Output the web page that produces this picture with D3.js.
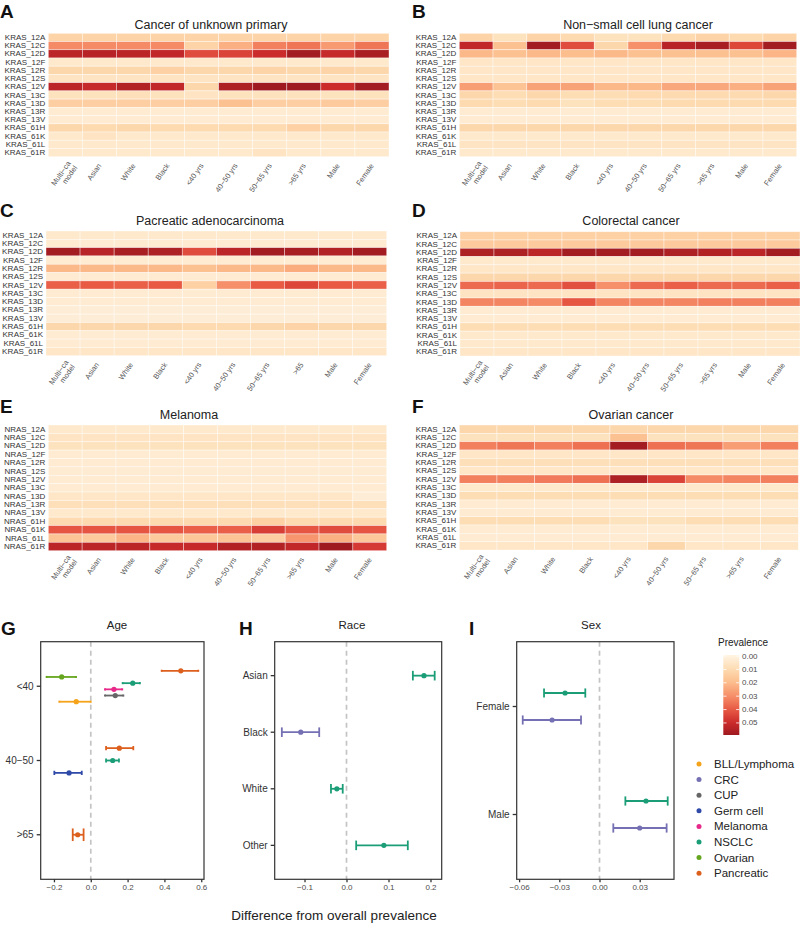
<!DOCTYPE html>
<html><head><meta charset="utf-8">
<script src="https://cdn.jsdelivr.net/npm/d3@7"></script>
<style>body{margin:0;background:#fff} svg{display:block;font-family:"Liberation Sans",Arial,sans-serif}</style>
</head><body>
<svg id="c" width="800" height="925"></svg>
<script>
// ---------------- DATA ----------------
const krasRows = ["KRAS_12A","KRAS_12C","KRAS_12D","KRAS_12F","KRAS_12R","KRAS_12S","KRAS_12V","KRAS_13C","KRAS_13D","KRAS_13R","KRAS_13V","KRAS_61H","KRAS_61K","KRAS_61L","KRAS_61R"];
const nrasRows = ["NRAS_12A","NRAS_12C","NRAS_12D","NRAS_12F","NRAS_12R","NRAS_12S","NRAS_12V","NRAS_13C","NRAS_13D","NRAS_13R","NRAS_13V","NRAS_61H","NRAS_61K","NRAS_61L","NRAS_61R"];
const colsStd = ["Multi−ca\nmodel","Asian","White","Black","<40 yrs","40−50 yrs","50−65 yrs",">65 yrs","Male","Female"];
const colsPanc = ["Multi−ca\nmodel","Asian","White","Black","<40 yrs","40−50 yrs","50−65 yrs",">65","Male","Female"];
const colsOva = ["Multi−ca\nmodel","Asian","White","Black","<40 yrs","40−50 yrs","50−65 yrs",">65 yrs","Female"];

const cupValues = [
 [0.013,0.013,0.013,0.013,0.013,0.013,0.013,0.013,0.013,0.013],
 [0.031,0.031,0.031,0.031,0.013,0.023,0.033,0.035,0.028,0.035],
 [0.053,0.054,0.053,0.052,0.043,0.045,0.050,0.058,0.051,0.057],
 [0.005,0.005,0.005,0.005,0.005,0.005,0.005,0.005,0.005,0.005],
 [0.012,0.012,0.012,0.014,0.012,0.012,0.013,0.012,0.013,0.012],
 [0.007,0.007,0.007,0.007,0.007,0.007,0.007,0.007,0.007,0.007],
 [0.053,0.051,0.055,0.052,0.012,0.056,0.059,0.059,0.050,0.058],
 [0.008,0.008,0.009,0.008,0.007,0.008,0.008,0.008,0.008,0.008],
 [0.015,0.015,0.015,0.015,0.015,0.019,0.015,0.015,0.016,0.015],
 [0.004,0.004,0.004,0.004,0.004,0.004,0.004,0.004,0.004,0.004],
 [0.004,0.004,0.004,0.004,0.004,0.004,0.004,0.004,0.004,0.004],
 [0.012,0.011,0.012,0.011,0.011,0.011,0.011,0.014,0.012,0.012],
 [0.005,0.007,0.005,0.005,0.005,0.005,0.005,0.005,0.005,0.005],
 [0.005,0.005,0.005,0.005,0.005,0.005,0.005,0.005,0.005,0.005],
 [0.005,0.005,0.005,0.005,0.005,0.005,0.007,0.005,0.005,0.005]
];
const nsclcValues = [
 [0.013,0.008,0.013,0.011,0.008,0.008,0.011,0.013,0.011,0.013],
 [0.052,0.019,0.058,0.043,0.012,0.030,0.054,0.057,0.044,0.058],
 [0.021,0.019,0.021,0.020,0.021,0.019,0.019,0.019,0.019,0.022],
 [0.006,0.006,0.006,0.006,0.006,0.006,0.006,0.006,0.006,0.006],
 [0.006,0.006,0.006,0.006,0.006,0.006,0.006,0.006,0.006,0.006],
 [0.006,0.006,0.006,0.006,0.006,0.006,0.006,0.006,0.006,0.006],
 [0.027,0.018,0.026,0.026,0.021,0.021,0.025,0.025,0.023,0.026],
 [0.012,0.010,0.012,0.010,0.010,0.011,0.011,0.011,0.011,0.012],
 [0.011,0.010,0.011,0.008,0.010,0.010,0.011,0.011,0.011,0.011],
 [0.004,0.004,0.004,0.004,0.004,0.004,0.004,0.004,0.004,0.004],
 [0.004,0.004,0.004,0.004,0.004,0.004,0.004,0.004,0.004,0.004],
 [0.012,0.012,0.012,0.012,0.012,0.012,0.012,0.012,0.012,0.012],
 [0.005,0.005,0.005,0.005,0.005,0.005,0.005,0.005,0.005,0.005],
 [0.007,0.007,0.007,0.007,0.007,0.007,0.007,0.007,0.007,0.007],
 [0.005,0.005,0.005,0.005,0.005,0.005,0.005,0.005,0.005,0.005]
];
const pancValues = [
 [0.005,0.005,0.005,0.005,0.005,0.005,0.005,0.005,0.005,0.005],
 [0.004,0.004,0.004,0.004,0.004,0.004,0.004,0.004,0.004,0.004],
 [0.058,0.054,0.057,0.056,0.043,0.053,0.058,0.057,0.055,0.058],
 [0.004,0.004,0.004,0.004,0.004,0.004,0.004,0.004,0.004,0.004],
 [0.021,0.021,0.021,0.021,0.019,0.021,0.021,0.024,0.021,0.021],
 [0.004,0.004,0.004,0.004,0.004,0.004,0.004,0.004,0.004,0.004],
 [0.039,0.040,0.039,0.040,0.014,0.030,0.040,0.044,0.040,0.039],
 [0.004,0.004,0.004,0.004,0.004,0.004,0.004,0.004,0.004,0.004],
 [0.004,0.004,0.004,0.004,0.004,0.004,0.004,0.004,0.004,0.004],
 [0.003,0.003,0.003,0.003,0.003,0.003,0.003,0.003,0.003,0.003],
 [0.003,0.003,0.003,0.003,0.003,0.003,0.003,0.003,0.003,0.003],
 [0.012,0.012,0.012,0.012,0.011,0.011,0.012,0.013,0.012,0.012],
 [0.004,0.004,0.004,0.004,0.004,0.004,0.004,0.004,0.004,0.004],
 [0.004,0.004,0.004,0.004,0.004,0.004,0.004,0.004,0.004,0.004],
 [0.006,0.006,0.006,0.006,0.006,0.006,0.006,0.006,0.006,0.006]
];
const crcValues = [
 [0.014,0.014,0.014,0.014,0.014,0.014,0.014,0.014,0.014,0.014],
 [0.016,0.016,0.016,0.016,0.016,0.016,0.016,0.016,0.016,0.016],
 [0.056,0.056,0.053,0.058,0.058,0.058,0.056,0.055,0.053,0.058],
 [0.005,0.005,0.005,0.005,0.005,0.005,0.005,0.005,0.005,0.005],
 [0.006,0.006,0.006,0.006,0.006,0.006,0.006,0.006,0.006,0.006],
 [0.012,0.012,0.012,0.012,0.012,0.012,0.012,0.012,0.012,0.012],
 [0.037,0.038,0.037,0.042,0.030,0.037,0.039,0.037,0.037,0.039],
 [0.007,0.007,0.007,0.007,0.007,0.007,0.007,0.007,0.007,0.007],
 [0.032,0.032,0.031,0.041,0.032,0.032,0.032,0.033,0.033,0.033],
 [0.004,0.004,0.004,0.004,0.004,0.004,0.004,0.004,0.004,0.004],
 [0.004,0.004,0.004,0.004,0.004,0.004,0.004,0.004,0.004,0.004],
 [0.010,0.010,0.010,0.010,0.010,0.010,0.010,0.010,0.010,0.010],
 [0.005,0.005,0.005,0.005,0.005,0.005,0.005,0.005,0.005,0.005],
 [0.005,0.005,0.005,0.005,0.005,0.005,0.005,0.005,0.005,0.005],
 [0.006,0.006,0.006,0.006,0.006,0.006,0.006,0.006,0.006,0.006]
];
const melValues = [
 [0.005,0.005,0.005,0.005,0.005,0.005,0.005,0.005,0.005,0.005],
 [0.007,0.007,0.007,0.007,0.007,0.007,0.007,0.007,0.007,0.007],
 [0.008,0.008,0.008,0.008,0.008,0.008,0.008,0.008,0.008,0.008],
 [0.004,0.004,0.004,0.004,0.004,0.004,0.004,0.004,0.004,0.004],
 [0.004,0.004,0.004,0.004,0.004,0.004,0.004,0.004,0.004,0.004],
 [0.004,0.004,0.004,0.004,0.004,0.004,0.004,0.004,0.004,0.004],
 [0.004,0.004,0.004,0.004,0.004,0.004,0.004,0.004,0.004,0.004],
 [0.004,0.004,0.004,0.004,0.004,0.004,0.004,0.004,0.004,0.004],
 [0.006,0.006,0.006,0.006,0.006,0.006,0.006,0.006,0.006,0.003],
 [0.009,0.009,0.009,0.009,0.009,0.009,0.009,0.009,0.009,0.009],
 [0.005,0.005,0.005,0.005,0.005,0.005,0.005,0.005,0.005,0.005],
 [0.011,0.011,0.011,0.011,0.011,0.011,0.014,0.011,0.011,0.011],
 [0.041,0.041,0.041,0.041,0.039,0.039,0.046,0.041,0.043,0.041],
 [0.018,0.016,0.022,0.016,0.017,0.018,0.015,0.029,0.023,0.017],
 [0.053,0.053,0.053,0.051,0.051,0.055,0.055,0.052,0.059,0.047]
];
const ovaValues = [
 [0.012,0.012,0.012,0.012,0.012,0.012,0.012,0.012,0.012],
 [0.008,0.008,0.008,0.008,0.019,0.008,0.008,0.008,0.008],
 [0.033,0.035,0.033,0.036,0.058,0.036,0.035,0.027,0.033],
 [0.006,0.006,0.006,0.006,0.006,0.006,0.006,0.006,0.006],
 [0.009,0.009,0.009,0.009,0.009,0.009,0.009,0.009,0.009],
 [0.006,0.006,0.006,0.006,0.006,0.006,0.006,0.006,0.006],
 [0.033,0.033,0.034,0.036,0.056,0.045,0.031,0.032,0.033],
 [0.005,0.005,0.005,0.005,0.005,0.005,0.005,0.005,0.005],
 [0.010,0.010,0.010,0.010,0.010,0.010,0.010,0.010,0.010],
 [0.004,0.004,0.004,0.004,0.004,0.004,0.004,0.004,0.004],
 [0.004,0.004,0.004,0.004,0.004,0.004,0.004,0.004,0.004],
 [0.010,0.010,0.010,0.010,0.008,0.008,0.010,0.010,0.010],
 [0.004,0.004,0.004,0.004,0.004,0.004,0.004,0.004,0.004],
 [0.004,0.004,0.004,0.004,0.004,0.004,0.004,0.004,0.004],
 [0.006,0.006,0.006,0.006,0.006,0.012,0.006,0.006,0.006]
];

const prevTicks = [0.00,0.01,0.02,0.03,0.04,0.05];

const ageCats = ["<40","40−50",">65"];
const ageData = [
 {cat:"<40", type:"Pancreatic", est:0.489, lo:0.385, hi:0.584},
 {cat:"<40", type:"Ovarian", est:-0.158, lo:-0.240, hi:-0.080},
 {cat:"<40", type:"NSCLC", est:0.228, lo:0.173, hi:0.267},
 {cat:"<40", type:"Melanoma", est:0.126, lo:0.077, hi:0.171},
 {cat:"<40", type:"CUP", est:0.133, lo:0.077, hi:0.177},
 {cat:"<40", type:"BLL/Lymphoma", est:-0.079, lo:-0.171, hi:0.000},
 {cat:"40−50", type:"Pancreatic", est:0.155, lo:0.083, hi:0.231},
 {cat:"40−50", type:"NSCLC", est:0.119, lo:0.083, hi:0.153},
 {cat:"40−50", type:"Germ cell", est:-0.118, lo:-0.198, hi:-0.049},
 {cat:">65", type:"Pancreatic", est:-0.071, lo:-0.098, hi:-0.039}
];
const raceCats = ["Asian","Black","White","Other"];
const raceData = [
 {cat:"Asian", type:"NSCLC", est:0.1845, lo:0.158, hi:0.210},
 {cat:"Black", type:"CRC", est:-0.109, lo:-0.154, hi:-0.065},
 {cat:"White", type:"NSCLC", est:-0.023, lo:-0.037, hi:-0.009},
 {cat:"Other", type:"NSCLC", est:0.089, lo:0.023, hi:0.146}
];
const sexCats = ["Female","Male"];
const sexData = [
 {cat:"Female", type:"NSCLC", est:-0.0257, lo:-0.0414, hi:-0.0106},
 {cat:"Female", type:"CRC", est:-0.0354, lo:-0.0573, hi:-0.0138},
 {cat:"Male", type:"NSCLC", est:0.0347, lo:0.0193, hi:0.0509},
 {cat:"Male", type:"CRC", est:0.0300, lo:0.0103, hi:0.0501}
];

const cancerTypes = ["BLL/Lymphoma","CRC","CUP","Germ cell","Melanoma","NSCLC","Ovarian","Pancreatic"];
const cancerColors = ["#F5A31A","#7570B3","#666666","#2F4AA8","#E7298A","#1B9E77","#66A61E","#DD5F1E"];

// ---------------- DRAW ----------------
const svg = d3.select("#c");
const color = d3.scaleLinear()
  .domain([0,0.01,0.02,0.03,0.04,0.05,0.059])
  .range(["#FFF4E4","#FDDDB4","#FCBE8D","#F6906A","#E85A44","#CB2B2B","#9E1A20"])
  .clamp(true);
const typeColor = d3.scaleOrdinal().domain(cancerTypes).range(cancerColors);

function letter(txt, x, y) {
  svg.append("text").attr("x", x).attr("y", y).text(txt)
    .attr("font-size", 19).attr("font-weight", "bold").attr("fill", "#111");
}

function heatmap(cfg) {
  const x = d3.scaleBand().domain(cfg.cols).range([cfg.x0, cfg.x1]);
  const y = d3.scaleBand().domain(cfg.rows).range([cfg.y0, cfg.y1]);
  const g = svg.append("g");
  const cells = [];
  cfg.values.forEach((row, i) => row.forEach((v, j) => cells.push({r: cfg.rows[i], c: cfg.cols[j], v})));
  g.selectAll("rect").data(cells).join("rect")
    .attr("x", d => x(d.c)).attr("y", d => y(d.r))
    .attr("width", x.bandwidth()).attr("height", y.bandwidth())
    .attr("fill", d => color(d.v))
    .attr("stroke", "rgba(255,255,255,0.55)").attr("stroke-width", 0.7);
  g.selectAll("text.row").data(cfg.rows).join("text").attr("class", "row")
    .attr("x", cfg.x0 - 3).attr("y", d => y(d) + y.bandwidth() / 2)
    .attr("text-anchor", "end").attr("dominant-baseline", "central")
    .attr("font-size", 8).attr("fill", "#333").text(d => d);
  cfg.cols.forEach(c => {
    const lines = c.split("\n");
    const t = g.append("text")
      .attr("transform", `translate(${x(c) + x.bandwidth() / 2 - 2},${cfg.y1 + 6}) rotate(-55)`)
      .attr("text-anchor", "end").attr("font-size", 7.5).attr("fill", "#555");
    if (lines.length === 1) {
      t.append("tspan").attr("x", 0).attr("dy", "0.7em").text(lines[0]);
    } else {
      t.append("tspan").attr("x", 4).attr("dy", "0.9em").text(lines[0]);
      t.append("tspan").attr("x", 4).attr("dy", "1.05em").text(lines[1]);
    }
  });
  svg.append("text").attr("x", cfg.titleX).attr("y", cfg.titleY)
    .attr("text-anchor", "middle").attr("font-size", 12.5).attr("fill", "#222").text(cfg.title);
  letter(cfg.letter, cfg.lx, cfg.ly);
}

heatmap({letter:"A", lx:0, ly:18, title:"Cancer of unknown primary", titleX:211, titleY:28.5,
  rows:krasRows, cols:colsStd, values:cupValues, x0:48.3, x1:389, y0:33.3, y1:156.7});
heatmap({letter:"B", lx:412, ly:18, title:"Non−small cell lung cancer", titleX:638, titleY:28.5,
  rows:krasRows, cols:colsStd, values:nsclcValues, x0:459.3, x1:796.7, y0:33.3, y1:156.7});
heatmap({letter:"C", lx:0, ly:217, title:"Pacreatic adenocarcinoma", titleX:210, titleY:225,
  rows:krasRows, cols:colsPanc, values:pancValues, x0:46, x1:386.7, y0:231, y1:355.7});
heatmap({letter:"D", lx:412, ly:217, title:"Colorectal cancer", titleX:631, titleY:225,
  rows:krasRows, cols:colsStd, values:crcValues, x0:460, x1:800, y0:231.7, y1:356});
heatmap({letter:"E", lx:0, ly:413, title:"Melanoma", titleX:189, titleY:418.5,
  rows:nrasRows, cols:colsStd, values:melValues, x0:48.3, x1:386.7, y0:425, y1:550.7});
heatmap({letter:"F", lx:412, ly:413, title:"Ovarian cancer", titleX:631, titleY:418.5,
  rows:krasRows, cols:colsOva, values:ovaValues, x0:459.3, x1:798.3, y0:425, y1:550});

function forest(cfg) {
  const x = d3.scaleLinear().domain(cfg.domain).range([cfg.x0, cfg.x1]);
  const n = cfg.cats.length;
  const step = (cfg.y1 - cfg.y0) / (n + 0.2);
  const g = svg.append("g");
  g.append("line").attr("x1", x(0)).attr("x2", x(0)).attr("y1", cfg.y0).attr("y2", cfg.y1)
    .attr("stroke", "#C4C4C4").attr("stroke-width", 1.7).attr("stroke-dasharray", "5,4");
  cfg.cats.forEach((cat, i) => {
    const yc = cfg.y0 + (0.6 + i) * step;
    const mem = cfg.data.filter(d => d.cat === cat).sort((a, b) => d3.descending(a.type, b.type));
    const k = mem.length;
    mem.forEach((d, j) => {
      const yy = yc + (-0.25 + (j + 0.5) * 0.5 / k) * step;
      const cap = 0.085 * step / k;
      const col = typeColor(d.type);
      g.append("line").attr("x1", x(d.lo)).attr("x2", x(d.hi)).attr("y1", yy).attr("y2", yy)
        .attr("stroke", col).attr("stroke-width", 1.8);
      [d.lo, d.hi].forEach(v => g.append("line").attr("x1", x(v)).attr("x2", x(v))
        .attr("y1", yy - cap).attr("y2", yy + cap).attr("stroke", col).attr("stroke-width", 1.8));
      g.append("circle").attr("cx", x(d.est)).attr("cy", yy).attr("r", 2.6).attr("fill", col);
    });
    g.append("text").attr("x", cfg.x0 - 7).attr("y", yc).attr("text-anchor", "end")
      .attr("dominant-baseline", "central").attr("font-size", 10).attr("fill", "#333").text(cat);
    g.append("line").attr("x1", cfg.x0 - 4).attr("x2", cfg.x0).attr("y1", yc).attr("y2", yc)
      .attr("stroke", "#333").attr("stroke-width", 1.3);
  });
  g.append("rect").attr("x", cfg.x0).attr("y", cfg.y0).attr("width", cfg.x1 - cfg.x0)
    .attr("height", cfg.y1 - cfg.y0).attr("fill", "none").attr("stroke", "#333").attr("stroke-width", 1.2);
  const ax = g.append("g").attr("transform", `translate(0,${cfg.y1})`)
    .call(d3.axisBottom(x).tickValues(cfg.ticks).tickFormat(d3.format(cfg.fmt)).tickSize(3).tickPadding(2));
  ax.select(".domain").remove();
  ax.selectAll("line").attr("stroke", "#333").attr("stroke-width", 1.3);
  ax.selectAll("text").attr("font-size", 8).attr("fill", "#4D4D4D").attr("font-family", "Liberation Sans, Arial, sans-serif");
  svg.append("text").attr("x", cfg.titleX).attr("y", 629).attr("text-anchor", "middle")
    .attr("font-size", 11.5).attr("fill", "#222").text(cfg.title);
  letter(cfg.letter, cfg.lx, 635);
}

forest({letter:"G", lx:1, title:"Age", titleX:117, cats:ageCats, data:ageData,
  domain:[-0.272, 0.615], ticks:[-0.2,0,0.2,0.4,0.6], fmt:".1f", x0:40.7, x1:204, y0:641.7, y1:879.3});
forest({letter:"H", lx:239, title:"Race", titleX:352, cats:raceCats, data:raceData,
  domain:[-0.171, 0.2267], ticks:[-0.1,0,0.1,0.2], fmt:".1f", x0:274.7, x1:441.7, y0:641.7, y1:879.3});
forest({letter:"I", lx:469, title:"Sex", titleX:591, cats:sexCats, data:sexData,
  domain:[-0.0618, 0.0556], ticks:[-0.06,-0.03,0,0.03], fmt:".2f", x0:516.7, x1:674, y0:641.7, y1:879.3});

svg.append("text").attr("x", 334).attr("y", 920).attr("text-anchor", "middle")
  .attr("font-size", 13.5).attr("fill", "#222").text("Difference from overall prevalence");

// colour bar legend
const ly = d3.scaleLinear().domain([0, 0.059]).range([656, 735]);
const defs = svg.append("defs");
const grad = defs.append("linearGradient").attr("id", "pg").attr("x1", 0).attr("x2", 0).attr("y1", 0).attr("y2", 1);
d3.range(0, 1.0001, 0.05).forEach(t => grad.append("stop").attr("offset", t).attr("stop-color", color(t * 0.059)));
svg.append("text").attr("x", 743).attr("y", 646).attr("text-anchor", "middle")
  .attr("font-size", 10).attr("fill", "#222").text("Prevalence");
svg.append("rect").attr("x", 723.3).attr("y", 655).attr("width", 16).attr("height", 80).attr("fill", "url(#pg)");
prevTicks.forEach(v => {
  svg.append("line").attr("x1", 723.3).attr("x2", 726.5).attr("y1", ly(v)).attr("y2", ly(v)).attr("stroke", "#fff").attr("stroke-width", 0.8);
  svg.append("line").attr("x1", 736.1).attr("x2", 739.3).attr("y1", ly(v)).attr("y2", ly(v)).attr("stroke", "#fff").attr("stroke-width", 0.8);
  svg.append("text").attr("x", 742).attr("y", ly(v)).attr("dominant-baseline", "central")
    .attr("font-size", 8).attr("fill", "#4D4D4D").text(d3.format(".2f")(v));
});

// cancer type legend
cancerTypes.forEach((t, i) => {
  const yy = 764 + i * 15.6;
  svg.append("circle").attr("cx", 699).attr("cy", yy).attr("r", 2.5).attr("fill", typeColor(t));
  svg.append("text").attr("x", 714).attr("y", yy).attr("dominant-baseline", "central")
    .attr("font-size", 11.5).attr("fill", "#222").text(t);
});
</script></body></html>
